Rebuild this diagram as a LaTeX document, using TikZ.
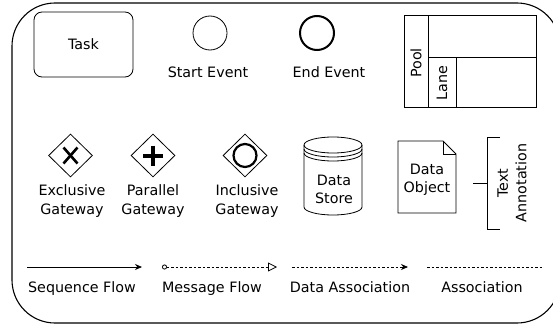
\documentclass[tikz,border=0pt]{standalone}
\usepackage{fontspec}
\setmainfont{DejaVu Sans}
\usetikzlibrary{shapes.geometric,arrows.meta,calc}
\begin{document}
\begin{tikzpicture}[x=1pt,y=-1pt,
  lbl/.style={font=\fontsize{14.3}{18.5}\selectfont, align=center, inner sep=0pt},
  gw/.style={draw, shape=diamond, minimum width=44pt, minimum height=43pt, inner sep=0pt, line width=0.8pt},
  ev/.style={draw, circle, minimum size=34pt, inner sep=0pt},
  thin/.style={line width=0.8pt},
  flowlbl/.style={lbl, anchor=base}
]
\useasboundingbox (0,0) rectangle (553,329);
% outer frame (right edge lies just outside the picture)
\draw[line width=1.1pt, rounded corners=43pt] (12,3) rectangle (560,323);

% Task
\node[draw, thin, rounded corners=8pt, minimum width=99pt, minimum height=65pt, lbl] (task) at (83.5,44.5) {Task};
% events
\node[ev, thin] (start) at (210,33) {};
\node[lbl, anchor=base] (startl) at (208,77) {Start Event};
\node[ev, line width=2pt] (end) at (317,33) {};
\node[lbl, anchor=base] (endl) at (329,77) {End Event};

% pool / lane
\node[draw, thin, minimum width=132pt, minimum height=92pt, inner sep=0pt] (pool) at (470,61) {};
\coordinate (ps) at (428,15);
\draw[thin] (ps) -- (428,107);
\draw[thin] (428,57) -- (536,57);
\draw[thin] (456,57) -- (456,107);
\node[lbl, rotate=90] (pooll) at (416,63) {Pool};
\node[lbl, rotate=90] (lanel) at (442,83) {Lane};

% gateways
\node[gw] (xg) at (70.5,155.5) {};
\draw[line width=2.6pt] ($(xg)+(-7,-8)$) -- ($(xg)+(7,8)$);
\draw[line width=2.6pt] ($(xg)+(-7,8)$) -- ($(xg)+(7,-8)$);
\node[lbl] (xgl) at (72,201) {Exclusive\\Gateway};

\node[gw] (pg) at (153,155.5) {};
\draw[line width=4pt] ($(pg)+(-10,0)$) -- ($(pg)+(10,0)$);
\draw[line width=4pt] ($(pg)+(0,-10)$) -- ($(pg)+(0,10)$);
\node[lbl] (pgl) at (153,201) {Parallel\\Gateway};

\node[gw] (ig) at (245,155.5) {};
\draw[line width=2.2pt] (ig) circle (11.5);
\node[lbl] (igl) at (247,201) {Inclusive\\Gateway};

% data store
\coordinate (ds) at (333,145);
\draw[thin] (304,145) -- (304,207) arc[start angle=180, end angle=0, x radius=29, y radius=8] -- (362,145);
\draw[thin] (ds) ellipse[x radius=29, y radius=8];
\draw[thin] (304,149) arc[start angle=180, end angle=0, x radius=29, y radius=8];
\draw[thin] (304,153) arc[start angle=180, end angle=0, x radius=29, y radius=8];
\node[lbl] (dsl) at (334,189.5) {Data\\Store};

% data object
\draw[thin] (398,141) -- (443,141) -- (456,154) -- (456,213) -- (398,213) -- cycle;
\draw[thin] (443,141) -- (443,154) -- (456,154);
\node[lbl] (dol) at (427,180) {Data\\Object};

% text annotation
\coordinate (ta1) at (500,137);
\coordinate (ta2) at (500,229);
\coordinate (tac) at (487,183);
\coordinate (tain) at (473,183);
\draw[thin] (ta1) -- (487,137) -- (487,229) -- (ta2);
\draw[thin] (tain) -- (tac);
\node[lbl, rotate=90] (tal) at (512,183) {Text\\Annotation};

% flows
\coordinate (sf1) at (27,267); \coordinate (sf2) at (142,267);
\draw[thin, -{Stealth[length=7pt,width=6pt]}] (sf1) -- (sf2);
\node[flowlbl] (sfl) at (82,292) {Sequence Flow};

\coordinate (mf1) at (162,267); \coordinate (mf2) at (277,267);
\draw[thin, dash pattern=on 2.5pt off 2pt, {Circle[open,length=5pt,width=5pt]}-{Triangle[open,length=9pt,width=9pt]}] (mf1) -- (mf2);
\node[flowlbl] (mfl) at (212,292) {Message Flow};

\coordinate (da1) at (292,267); \coordinate (da2) at (408,267);
\draw[thin, dash pattern=on 2.5pt off 2pt, -{Stealth[length=7pt,width=6pt]}] (da1) -- (da2);
\node[flowlbl] (dal) at (350,292) {Data Association};

\coordinate (as1) at (427,267); \coordinate (as2) at (543,267);
\draw[thin, dash pattern=on 2.5pt off 2pt] (as1) -- (as2);
\node[flowlbl] (asl) at (482,292) {Association};
\end{tikzpicture}
\end{document}
